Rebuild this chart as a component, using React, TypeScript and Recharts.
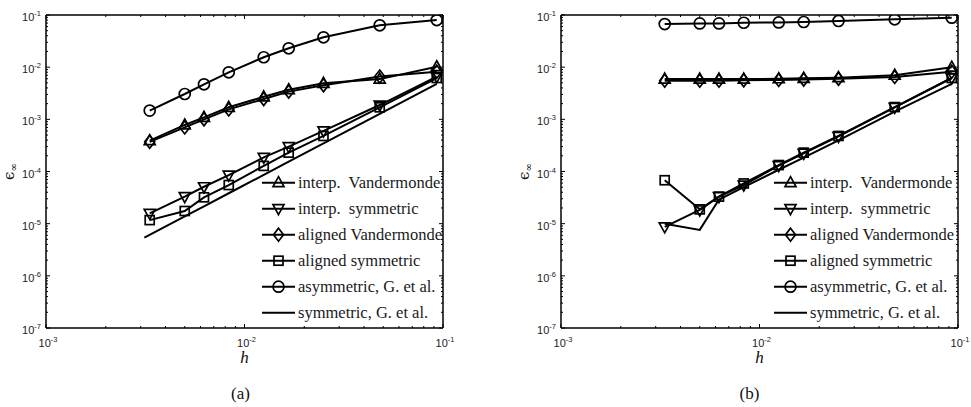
import React from "react";
import { LineChart, Line, XAxis, YAxis, Legend } from "recharts";

// grid spacing h shared by most runs
const H = [0.00333, 0.005, 0.00625, 0.00833, 0.0125, 0.0167, 0.025, 0.048, 0.093];
// the reference O(h^2) run in (a) starts on a slightly finer grid
const H_REF_A = [0.00313, 0.005, 0.00625, 0.00833, 0.0125, 0.0167, 0.025, 0.048, 0.093];

// (a)
const interpVanderA = [3.9e-4, 7.8e-4, 1.09e-3, 1.7e-3, 2.7e-3, 3.7e-3, 4.9e-3, 5.9e-3, 1.02e-2];
const interpSymA = [1.58e-5, 3.3e-5, 5.1e-5, 8.5e-5, 1.87e-4, 3.0e-4, 6.0e-4, 1.88e-3, 6.6e-3];
const alignedVanderA = [3.7e-4, 7.0e-4, 1.0e-3, 1.55e-3, 2.45e-3, 3.4e-3, 4.5e-3, 6.6e-3, 8.2e-3];
const alignedSymA = [1.17e-5, 1.75e-5, 3.2e-5, 5.5e-5, 1.28e-4, 2.3e-4, 4.8e-4, 1.7e-3, 6.2e-3];
const asymGA = [1.47e-3, 3.06e-3, 4.69e-3, 7.97e-3, 1.55e-2, 2.3e-2, 3.74e-2, 6.35e-2, 8.0e-2];
const symGA = [5.4e-6, 1.38e-5, 2.15e-5, 3.83e-5, 8.6e-5, 1.54e-4, 3.45e-4, 1.27e-3, 4.8e-3];

// (b)
const interpVanderB = [5.9e-3, 5.9e-3, 5.9e-3, 5.9e-3, 6.0e-3, 6.1e-3, 6.3e-3, 7.0e-3, 1.0e-2];
const interpSymB = [8.7e-6, 1.83e-5, 3.3e-5, 5.5e-5, 1.3e-4, 2.24e-4, 4.7e-4, 1.7e-3, 6.2e-3];
const alignedVanderB = [5.5e-3, 5.5e-3, 5.5e-3, 5.6e-3, 5.7e-3, 5.8e-3, 6.0e-3, 6.5e-3, 8.2e-3];
const alignedSymB = [6.8e-5, 1.88e-5, 3.3e-5, 5.9e-5, 1.33e-4, 2.3e-4, 4.8e-4, 1.72e-3, 6.2e-3];
const asymGB = [0.067, 0.069, 0.069, 0.071, 0.072, 0.0735, 0.0767, 0.0826, 0.0888];
const symGB = [1.0e-5, 7.6e-6, 2.9e-5, 5.0e-5, 1.08e-4, 1.85e-4, 3.95e-4, 1.4e-3, 4.8e-3];

const LEGEND_NAMES = [
  "interp.  Vandermonde",
  "interp.  symmetric",
  "aligned Vandermonde",
  "aligned symmetric",
  "asymmetric, G. et al.",
  "symmetric, G. et al.",
];
const MARKERS = ["up", "down", "diamond", "square", "circle", "none"];

const X_DECADES = [-3, -2, -1];
const Y_DECADES = [-7, -6, -5, -4, -3, -2, -1];

function logTicks(decades: number[]) {
  const out: number[] = [];
  for (let i = 0; i < decades.length - 1; i++) {
    for (let m = 1; m <= 9; m++) out.push(m * Math.pow(10, decades[i]));
  }
  out.push(Math.pow(10, decades[decades.length - 1]));
  return out;
}
const xTicks = logTicks(X_DECADES);
const yTicks = logTicks(Y_DECADES);

const zip = (hs: number[], vs: number[]) => hs.map((h, i) => ({ h, v: vs[i] }));

const SW = 1.7;
const SERIF = "'Liberation Serif', 'DejaVu Serif', serif";
const SANS = "'Liberation Sans', Arial, sans-serif";

function Marker({ kind, cx, cy }: { kind: string; cx: number; cy: number }) {
  const p = { fill: "none", stroke: "#000", strokeWidth: SW };
  switch (kind) {
    case "up":
      return <path d={`M${cx},${cy - 6}L${cx + 5.5},${cy + 4}L${cx - 5.5},${cy + 4}Z`} {...p} />;
    case "down":
      return <path d={`M${cx},${cy + 6}L${cx + 5.5},${cy - 4}L${cx - 5.5},${cy - 4}Z`} {...p} />;
    case "diamond":
      return <path d={`M${cx},${cy - 6.5}L${cx + 5},${cy}L${cx},${cy + 6.5}L${cx - 5},${cy}Z`} {...p} />;
    case "square":
      return <rect x={cx - 4.5} y={cy - 4.5} width={9} height={9} {...p} />;
    case "circle":
      return <circle cx={cx} cy={cy} r={5.5} {...p} />;
    default:
      return null;
  }
}

const isMajor = (v: number) => {
  const e = Math.log10(v);
  return Math.abs(e - Math.round(e)) < 1e-6;
};

function PowerLabel({ x, y, v, anchor }: { x: number; y: number; v: number; anchor: "middle" | "end" }) {
  const e = Math.round(Math.log10(v));
  return (
    <text x={x} y={y} textAnchor={anchor} fill="#222" style={{ fontFamily: SANS, fontSize: 11 }}>
      <tspan>10</tspan>
      <tspan dy={-5} style={{ fontSize: 7.5 }}>{`${e}`}</tspan>
    </text>
  );
}

const BottomTick = (props: any) => {
  const { x, y, payload } = props;
  const major = isMajor(payload.value);
  return (
    <g>
      <line x1={x} x2={x} y1={y} y2={y - (major ? 4 : 2)} stroke="#000" />
      {major && <PowerLabel x={x + 2} y={y + 19} v={payload.value} anchor="middle" />}
    </g>
  );
};
const TopTick = (props: any) => {
  const { x, y, payload } = props;
  const major = isMajor(payload.value);
  return <line x1={x} x2={x} y1={y} y2={y + (major ? 4 : 2)} stroke="#000" />;
};
const LeftTick = (props: any) => {
  const { x, y, payload } = props;
  const major = isMajor(payload.value);
  return (
    <g>
      <line x1={x} x2={x + (major ? 4 : 2)} y1={y} y2={y} stroke="#000" />
      {major && <PowerLabel x={x - 5} y={y + 6} v={payload.value} anchor="end" />}
    </g>
  );
};
const RightTick = (props: any) => {
  const { x, y, payload } = props;
  const major = isMajor(payload.value);
  return <line x1={x} x2={x - (major ? 4 : 2)} y1={y} y2={y} stroke="#000" />;
};

function LegendBox() {
  return (
    <svg width={190} height={160} style={{ display: "block", overflow: "visible" }}>
      {LEGEND_NAMES.map((name, i) => {
        const y = 12.7 + i * 26;
        return (
          <g key={name}>
            <line x1={4} x2={37} y1={y} y2={y} stroke="#000" strokeWidth={2} />
            <Marker kind={MARKERS[i]} cx={20.5} cy={y} />
            <text
              x={40}
              y={y + 5}
              fill="#1a1a1a"
              style={{ fontFamily: SERIF, fontSize: 16.5, whiteSpace: "pre" }}
            >
              {name}
            </text>
          </g>
        );
      })}
    </svg>
  );
}

type PanelProps = {
  left: number;
  width: number;
  margin: { top: number; right: number; bottom: number; left: number };
  series: { data: { h: number; v: number }[]; marker: string }[];
  caption: string;
  captionShift: number;
  legendLeft: number;
};

function Panel({ left, width, margin, series, caption, captionShift, legendLeft }: PanelProps) {
  const axisLine = { stroke: "#000", strokeWidth: 1.5 };
  return (
    <div style={{ position: "absolute", left, top: 0 }}>
      <LineChart width={width} height={407} margin={margin}>
        <XAxis
          dataKey="h"
          type="number"
          scale="log"
          domain={[1e-3, 1e-1]}
          allowDataOverflow
          ticks={xTicks}
          interval={0}
          height={1}
          tickSize={0}
          tickMargin={0}
          tickLine={false}
          axisLine={axisLine}
          tick={BottomTick}
          label={{
            content: (p: any) => {
              const vb = p.viewBox;
              const cx = vb.x + vb.width / 2;
              return (
                <g>
                  <text x={cx} y={vb.y + 35} textAnchor="middle" fill="#111"
                    style={{ fontFamily: SERIF, fontSize: 17, fontStyle: "italic" }}>h</text>
                  <text x={cx + captionShift} y={vb.y + 71} textAnchor="middle" fill="#111"
                    style={{ fontFamily: SERIF, fontSize: 17 }}>{caption}</text>
                </g>
              );
            },
          }}
        />
        <XAxis
          xAxisId="t"
          dataKey="h"
          type="number"
          orientation="top"
          scale="log"
          domain={[1e-3, 1e-1]}
          allowDataOverflow
          ticks={xTicks}
          interval={0}
          height={1}
          tickSize={0}
          tickMargin={0}
          tickLine={false}
          axisLine={axisLine}
          tick={TopTick}
        />
        <YAxis
          type="number"
          scale="log"
          domain={[1e-7, 1e-1]}
          allowDataOverflow
          ticks={yTicks}
          interval={0}
          width={1}
          tickSize={0}
          tickMargin={0}
          tickLine={false}
          axisLine={axisLine}
          tick={LeftTick}
          label={{
            content: (p: any) => {
              const vb = p.viewBox;
              const x = vb.x + vb.width - 36;
              const y = vb.y + vb.height / 2;
              return (
                <text transform={`translate(${x},${y}) rotate(-90)`} textAnchor="middle" fill="#111"
                  dy={4} style={{ fontFamily: "'DejaVu Serif', serif", fontSize: 15 }}>
                  <tspan>ϵ</tspan>
                  <tspan dy={3} style={{ fontSize: 10 }}>∞</tspan>
                </text>
              );
            },
          }}
        />
        <YAxis
          yAxisId="r"
          orientation="right"
          type="number"
          scale="log"
          domain={[1e-7, 1e-1]}
          allowDataOverflow
          ticks={yTicks}
          interval={0}
          width={1}
          tickSize={0}
          tickMargin={0}
          tickLine={false}
          axisLine={axisLine}
          tick={RightTick}
        />
        {series.map((s, i) => (
          <Line
            key={i}
            data={s.data}
            dataKey="v"
            type="linear"
            stroke="#000"
            strokeWidth={2}
            isAnimationActive={false}
            activeDot={false}
            dot={(d: any) => <Marker key={`${i}-${d.index}`} kind={s.marker} cx={d.cx} cy={d.cy} />}
          />
        ))}
        <Legend
          layout="vertical"
          align="center"
          verticalAlign="middle"
          wrapperStyle={{ position: "absolute", left: legendLeft, top: 170, width: 190, height: 160 }}
          content={() => <LegendBox />}
        />
      </LineChart>
    </div>
  );
}

export default function App() {
  const seriesA = [
    { data: zip(H, interpVanderA), marker: "up" },
    { data: zip(H, interpSymA), marker: "down" },
    { data: zip(H, alignedVanderA), marker: "diamond" },
    { data: zip(H, alignedSymA), marker: "square" },
    { data: zip(H, asymGA), marker: "circle" },
    { data: zip(H_REF_A, symGA), marker: "none" },
  ];
  const seriesB = [
    { data: zip(H, interpVanderB), marker: "up" },
    { data: zip(H, interpSymB), marker: "down" },
    { data: zip(H, alignedVanderB), marker: "diamond" },
    { data: zip(H, alignedSymB), marker: "square" },
    { data: zip(H, asymGB), marker: "circle" },
    { data: zip(H, symGB), marker: "none" },
  ];
  return (
    <div style={{ position: "absolute", left: 0, top: 0, width: 971, height: 407, background: "#fff" }}>
      <Panel
        left={0}
        width={480}
        margin={{ top: 14, right: 36, bottom: 78, left: 45 }}
        series={seriesA}
        caption="(a)"
        captionShift={-4}
        legendLeft={258}
      />
      <Panel
        left={480}
        width={491}
        margin={{ top: 14, right: 12, bottom: 78, left: 80 }}
        series={seriesB}
        caption="(b)"
        captionShift={-10}
        legendLeft={290}
      />
    </div>
  );
}
